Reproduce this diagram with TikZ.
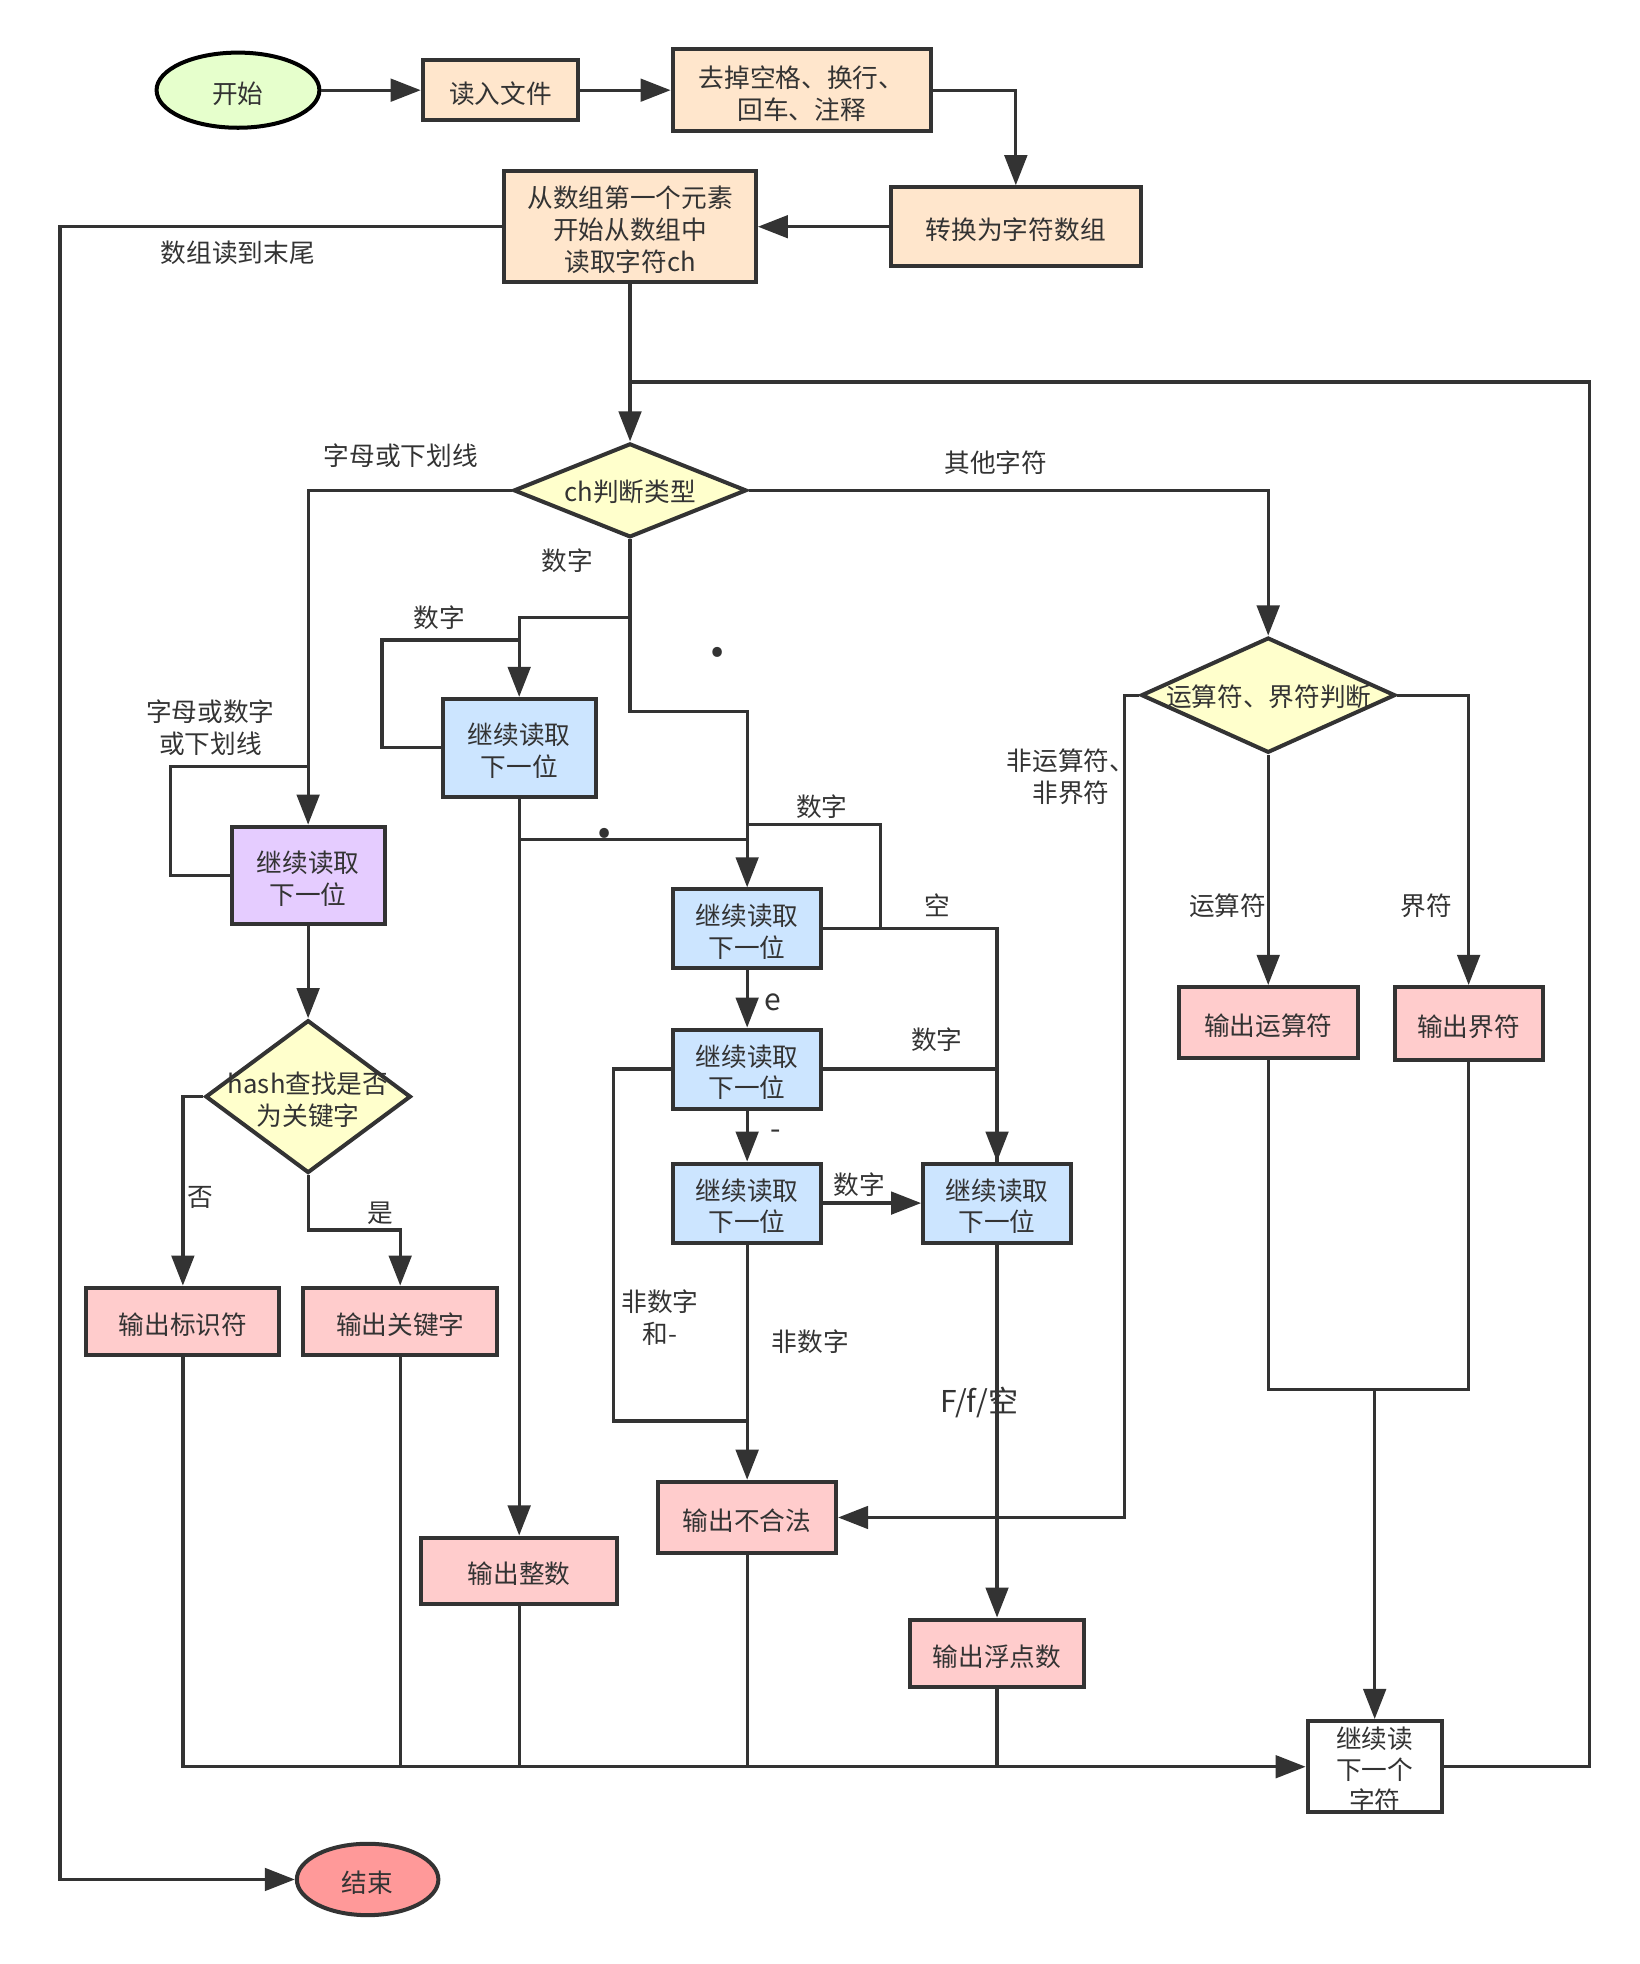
\documentclass[tikz,border=0pt]{standalone}
\usepackage{fontspec}
\setmainfont{Noto Sans CJK SC}
\usetikzlibrary{arrows.meta,shapes.geometric}
\definecolor{ink}{HTML}{333333}
\definecolor{startc}{HTML}{E6FFCC}
\definecolor{prep}{HTML}{FFE6CC}
\definecolor{decide}{HTML}{FFFFCC}
\definecolor{ident}{HTML}{E5CCFF}
\definecolor{digit}{HTML}{CCE5FF}
\definecolor{outc}{HTML}{FFCCCC}
\definecolor{endc}{HTML}{FF9999}
\begin{document}
\begin{tikzpicture}[x=1pt,y=-1pt,
  every node/.style={text=ink,font=\fontsize{20.5}{25.5}\selectfont,inner sep=0pt},
  conn/.style={draw=ink,line width=2.6pt},
  arr/.style={conn,-{Triangle[length=24pt,width=18pt]}},
  box/.style={rectangle,draw=ink,line width=3.2pt,align=center},
  terminal/.style={ellipse,draw=ink,line width=3.2pt},
  decision/.style={diamond,draw=ink,line width=3.2pt,fill=decide},
  intext/.style={label={[align=center,yshift=-2.5pt]center:{#1}}},
  bigtxt/.style={font=\fontsize{24}{28}\selectfont},
  dot/.style={font=\fontsize{58}{60}\selectfont}
]
\useasboundingbox (0,0) rectangle (1309,1568);

% ---------- nodes ----------
\node[terminal,draw=black,fill=startc,minimum width=130,minimum height=60,intext={开始}] (start) at (190,72) {};
\node[box,fill=prep,minimum width=124,minimum height=48,intext={读入文件}] (read) at (399.5,72) {};
\node[box,fill=prep,minimum width=206,minimum height=65,intext={去掉空格、换行、\\回车、注释}] (strip) at (640,72) {};
\node[box,fill=prep,minimum width=200,minimum height=63,intext={转换为字符数组}] (conv) at (811,181) {};
\node[box,fill=prep,minimum width=201,minimum height=89,intext={从数组第一个元素\\开始从数组中\\读取字符ch}] (fetch) at (503,181) {};

\node[decision,minimum width=186,minimum height=75] (judge) at (503,391.5) {};
\node at (503,393) {ch判断类型};

\node[box,fill=ident,minimum width=122,minimum height=78,intext={继续读取\\下一位}] (idloop) at (246,699) {};
\node[decision,minimum width=164,minimum height=122] (hash) at (246,875.5) {};
\node[align=center] at (246,878) {hash查找是否\\为关键字};
\node[box,fill=outc,minimum width=154,minimum height=54,intext={输出标识符}] (outid) at (146,1055) {};
\node[box,fill=outc,minimum width=155,minimum height=54,intext={输出关键字}] (outkw) at (319.5,1055) {};

\node[box,fill=digit,minimum width=122,minimum height=78,intext={继续读取\\下一位}] (dig1) at (414.5,597) {};
\node[box,fill=digit,minimum width=118,minimum height=63,intext={继续读取\\下一位}] (dig2) at (596.5,741.5) {};
\node[box,fill=digit,minimum width=118,minimum height=63,intext={继续读取\\下一位}] (dig3) at (596.5,853.5) {};
\node[box,fill=digit,minimum width=118,minimum height=63,intext={继续读取\\下一位}] (dig4) at (596.5,960.5) {};
\node[box,fill=digit,minimum width=118,minimum height=63,intext={继续读取\\下一位}] (dig5) at (796,960.5) {};

\node[box,fill=outc,minimum width=156,minimum height=53,intext={输出整数}] (outint) at (414.5,1254) {};
\node[box,fill=outc,minimum width=142,minimum height=57,intext={输出不合法}] (outbad) at (596.5,1211.5) {};
\node[box,fill=outc,minimum width=139,minimum height=54,intext={输出浮点数}] (outfloat) at (796,1320) {};

\node[decision,minimum width=203,minimum height=92] (opjudge) at (1012.5,555) {};
\node at (1013,556.5) {运算符、界符判断};
\node[box,fill=outc,minimum width=143,minimum height=57,intext={输出运算符}] (outop) at (1012.5,816.5) {};
\node[box,fill=outc,minimum width=118,minimum height=58,intext={输出界符}] (outdl) at (1172.5,817) {};

\node[box,fill=white,minimum width=107,minimum height=73] (next) at (1097.5,1410.5) {};
\node[align=center,font=\fontsize{20.5}{24.5}\selectfont] at (1097.5,1413) {继续读\\下一个\\字符};

\node[terminal,fill=endc,minimum width=113,minimum height=57,intext={结束}] (end) at (293.5,1500.5) {};

% ---------- junction points ----------
\coordinate (backin) at (503,305);
\coordinate (loopR) at (1269,1410.5);
\coordinate (endL) at (48,181);
\coordinate (idjoin) at (246,612);
\coordinate (kwbend) at (246,982);
\coordinate (numsplit) at (503,493);
\coordinate (d1join) at (414.5,511);
\coordinate (ptbend) at (503,568);
\coordinate (dotL) at (414.5,670);
\coordinate (dotR) at (596.5,670);
\coordinate (d2join) at (596.5,658);
\coordinate (d2turn) at (703,741.5);
\coordinate (d3low) at (489.5,1134.5);
\coordinate (badjoin) at (596.5,1134.5);
\coordinate (opleft) at (898,555);
\coordinate (merge) at (1097.5,1109.5);

% ---------- main line ----------
\draw[arr] (start.east) -- (read.west);
\draw[arr] (read.east) -- (strip.west);
\draw[arr] (strip.east) -| (conv.north);
\draw[arr] (conv.west) -- (fetch.east);
\draw[arr] (fetch.west) -- (endL) |- (end.west);
\draw[arr] (fetch.south) -- (judge.north);
\draw[conn] (next.east) -- (loopR) |- (backin);

% ---------- identifiers / keywords ----------
\draw[arr] (judge.west) -| (idloop.north);
\draw[conn] (idloop.west) -- ++(-47,0) |- (idjoin);
\draw[arr] (idloop.south) -- (hash.north);
\draw[arr] (hash.west) -| (outid.north);
\draw[arr] (hash.south) -- (kwbend) -| (outkw.north);

% ---------- numbers ----------
\draw[conn] (judge.south) -- (numsplit);
\draw[arr] (numsplit) -| (dig1.north);
\draw[conn] (dig1.west) -- ++(-47,0) |- (d1join);
\draw[arr] (numsplit) -- (ptbend) -| (dig2.north);
\draw[arr] (dig1.south) -- (outint.north);
\draw[conn] (dotL) -- (dotR);
\draw[conn] (dig2.east) -- (d2turn) |- (d2join);
\draw[arr] (d2turn) -| (dig5.north);
\draw[arr] (dig2.south) -- (dig3.north);
\draw[conn] (dig3.east) -| (dig5.north);
\draw[conn] (dig3.west) -| (d3low) -- (badjoin);
\draw[arr] (dig3.south) -- (dig4.north);
\draw[arr] (dig4.east) -- (dig5.west);
\draw[arr] (dig4.south) -- (outbad.north);
\draw[arr] (dig5.south) -- (outfloat.north);

% ---------- operators / delimiters ----------
\draw[arr] (judge.east) -| (opjudge.north);
\draw[arr] (opjudge.west) -- (opleft) |- (outbad.east);
\draw[arr] (opjudge.south) -- (outop.north);
\draw[arr] (opjudge.east) -| (outdl.north);
\draw[conn] (outop.south) |- (merge) -| (outdl.south);
\draw[arr] (merge) -- (next.north);

% ---------- collecting line into the next-character box ----------
\draw[arr] (outid.south) |- (next.west);
\draw[conn] (outkw.south) -- (outkw.south |- next.west);
\draw[conn] (outint.south) -- (outint.south |- next.west);
\draw[conn] (outbad.south) -- (outbad.south |- next.west);
\draw[conn] (outfloat.south) -- (outfloat.south |- next.west);

% ---------- labels ----------
\node at (190,202) {数组读到末尾};
\node at (320,364) {字母或下划线};
\node at (795,369) {其他字符};
\node at (453,448) {数字};
\node[align=center] at (168,581) {字母或数字\\或下划线};
\node at (351,493) {数字};
\node[dot] at (573,521) {.};
\node[dot] at (483,665) {.};
\node at (656,644) {数字};
\node at (748,723) {空};
\node[bigtxt] at (617,800) {e};
\node at (748,830) {数字};
\node[bigtxt] at (619,906) {-};
\node at (686,946) {数字};
\node[align=center] at (527,1052) {非数字\\和-};
\node at (647,1071) {非数字};
\node[bigtxt] at (782,1120) {F/f/空};
\node[align=center] at (855,620) {非运算符、\\非界符};
\node at (980,723) {运算符};
\node at (1139,723) {界符};
\node at (160,956) {否};
\node at (304,969) {是};
\end{tikzpicture}
\end{document}
